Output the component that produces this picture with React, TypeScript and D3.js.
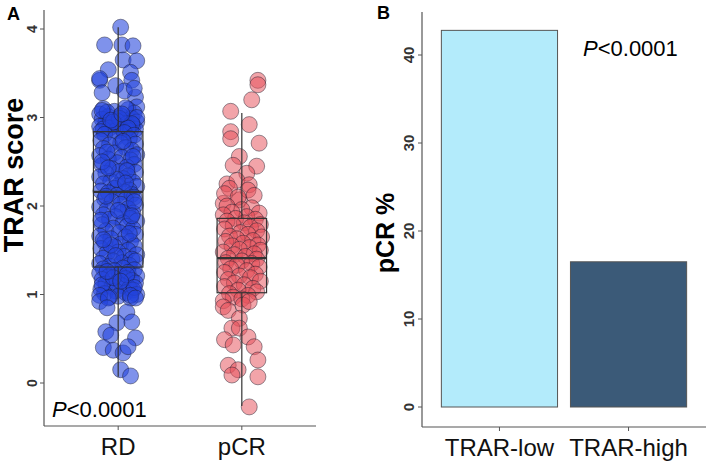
import React from "react";
import * as d3 from "d3";

// Panel A: TRAR score by response group. Points are [jitter (in category steps), score]
const groups = ["RD", "pCR"];

const rdPoints: [number, number][] = [
  [0.02, 4.02], [-0.11, 3.82], [0.03, 3.82], [0.12, 3.81], [0.04, 3.65], [0.15, 3.64], [0.10, 3.51],
  [-0.08, 3.54], [-0.15, 3.42], [-0.15, 3.44], [0.11, 3.42], [-0.13, 3.28], [0.14, 3.23], [0.15, 3.12],
  [-0.02, 3.36], [0.05, 3.30], [0.13, 3.33],
  [-0.12, 3.10], [0.08, 3.09], [-0.03, 3.07], [0.13, 3.05], [-0.15, 3.04], [0.02, 3.02], [-0.08, 3.01],
  [0.11, 2.99], [-0.13, 2.98], [0.05, 2.97], [-0.01, 2.96], [0.15, 2.95], [-0.10, 2.94], [0.07, 2.93],
  [-0.05, 2.92], [0.12, 2.91], [-0.15, 2.90], [0.00, 2.90], [0.09, 2.89], [-0.07, 2.88], [0.14, 2.87],
  [-0.12, 2.87], [0.04, 2.86], [-0.02, 2.85], [0.10, 2.85], [-0.14, 2.84], [0.06, 3.11], [-0.09, 3.06],
  [0.01, 2.99], [0.15, 3.00], [-0.04, 2.95], [0.11, 2.93], [-0.13, 3.08], [0.08, 2.88], [-0.06, 2.97], [0.03, 3.04],
  [0.05, 2.83], [-0.11, 2.81], [0.13, 2.80], [-0.02, 2.77], [0.09, 2.76], [-0.14, 2.74], [0.02, 2.71],
  [0.14, 2.70], [-0.07, 2.69], [0.06, 2.66], [-0.12, 2.65], [0.11, 2.63], [-0.03, 2.60], [0.15, 2.58],
  [-0.15, 2.57], [0.03, 2.55], [-0.08, 2.53], [0.10, 2.52], [-0.01, 2.49], [0.13, 2.47], [-0.13, 2.46],
  [0.07, 2.44], [-0.05, 2.42], [0.01, 2.39], [0.14, 2.38], [-0.10, 2.37], [0.08, 2.34], [-0.15, 2.33],
  [0.04, 2.31], [-0.06, 2.28], [0.12, 2.27], [-0.12, 2.25], [0.00, 2.23], [0.15, 2.22], [-0.03, 2.20],
  [0.09, 2.18], [-0.14, 2.17], [0.05, 2.16], [-0.08, 2.15], [0.11, 2.13], [-0.01, 2.12], [0.13, 2.10],
  [-0.11, 2.08], [0.06, 2.07], [-0.05, 2.05], [0.02, 2.02], [0.14, 2.01], [-0.15, 1.99], [0.08, 1.97],
  [-0.09, 1.96], [0.03, 1.93], [0.12, 1.92], [-0.12, 1.90], [-0.02, 1.88], [0.10, 1.86], [-0.07, 1.85],
  [0.15, 1.83], [0.04, 1.81], [-0.13, 1.79], [0.07, 1.77], [-0.04, 1.75], [0.12, 1.74], [-0.10, 1.72],
  [0.01, 1.70], [0.14, 1.68], [-0.15, 1.66], [0.06, 1.65], [-0.06, 1.63], [0.10, 1.60], [-0.11, 1.59],
  [0.02, 1.57], [0.13, 1.55], [-0.03, 1.54], [-0.14, 1.52], [0.08, 1.50], [0.00, 1.48], [-0.09, 1.47],
  [0.15, 1.45], [0.05, 1.43], [-0.12, 1.41], [0.11, 1.40], [-0.04, 1.38], [0.03, 1.36], [-0.15, 1.35],
  [0.09, 1.33], [-0.07, 1.32], [0.12, 2.56], [-0.09, 2.61], [0.04, 2.73], [-0.13, 2.50], [0.07, 2.40],
  [-0.01, 2.30], [0.13, 2.05], [-0.10, 2.11], [0.00, 1.95], [-0.14, 1.84], [0.09, 1.69], [-0.06, 1.56],
  [0.14, 1.38], [-0.02, 1.44], [0.06, 2.26], [-0.08, 2.43], [0.11, 1.89], [-0.12, 1.62],
  [0.04, 1.30], [-0.12, 1.29], [0.13, 1.28], [-0.03, 1.27], [0.08, 1.25], [-0.15, 1.24], [0.01, 1.23],
  [0.15, 1.21], [-0.08, 1.20], [0.06, 1.18], [-0.13, 1.17], [0.11, 1.16], [-0.01, 1.14], [0.14, 1.13],
  [-0.10, 1.12], [0.03, 1.10], [-0.05, 1.09], [0.09, 1.07], [-0.14, 1.06], [0.12, 1.05], [-0.02, 1.04],
  [0.06, 1.02], [-0.11, 1.01], [0.15, 1.00], [0.00, 0.98], [-0.07, 0.97], [0.10, 0.96], [-0.13, 1.11],
  [0.07, 1.22], [-0.04, 1.19], [0.13, 1.08], [-0.09, 1.26], [0.02, 1.15], [-0.15, 0.99],
  [-0.15, 0.92], [-0.08, 0.96], [0.10, 0.99], [0.14, 0.96], [-0.09, 0.85], [0.07, 0.80], [0.11, 0.69],
  [-0.01, 0.68], [-0.10, 0.58], [-0.06, 0.54], [0.14, 0.51], [-0.12, 0.40], [-0.04, 0.37], [0.04, 0.34],
  [0.08, 0.41], [0.02, 0.15], [0.10, 0.08],
];

const pcrPoints: [number, number][] = [
  [0.13, 3.42], [0.13, 3.37], [0.08, 3.20], [-0.09, 3.07], [0.06, 2.92], [-0.09, 2.84], [-0.09, 2.76],
  [0.14, 2.71], [-0.02, 2.56], [-0.07, 2.46], [0.12, 2.45], [0.04, 2.37], [-0.12, 2.25], [-0.04, 2.29],
  [0.06, 2.24], [-0.15, 2.03], [-0.02, 2.07],
  [-0.10, 2.20], [0.05, 2.18], [-0.14, 2.14], [0.10, 2.12], [-0.03, 2.10], [-0.12, 2.00], [0.08, 1.98],
  [0.00, 1.96], [-0.08, 1.93], [0.14, 1.92], [-0.15, 1.90], [0.04, 1.88], [-0.05, 1.86], [0.11, 1.85],
  [-0.12, 1.83], [0.02, 1.81], [0.15, 1.79], [-0.07, 1.78], [0.07, 1.76], [-0.14, 1.74], [0.12, 1.72],
  [-0.01, 1.70], [0.05, 1.68], [-0.10, 1.66], [0.16, 1.65], [-0.04, 1.63], [0.09, 1.61], [-0.13, 1.60],
  [0.01, 1.58], [0.13, 1.56], [-0.08, 1.55], [0.06, 1.53], [-0.02, 1.51], [0.15, 1.50], [-0.15, 1.48],
  [0.10, 1.46], [-0.06, 1.45], [0.03, 1.43], [-0.11, 1.41], [0.12, 1.40], [0.00, 1.38], [-0.13, 1.36],
  [0.08, 1.35], [-0.04, 1.33], [0.14, 1.31], [-0.09, 1.29], [0.04, 1.27], [-0.14, 1.25], [0.11, 1.23],
  [-0.02, 1.21], [0.07, 1.19], [-0.11, 1.17], [0.15, 1.15], [-0.06, 1.13], [0.02, 1.11], [-0.14, 1.09],
  [0.09, 1.07], [-0.03, 1.05], [0.12, 1.03], [-0.10, 1.01], [0.05, 0.99], [-0.07, 0.97], [0.00, 0.95],
  [-0.15, 0.93],
  [-0.15, 0.86], [-0.11, 0.82], [0.01, 0.88], [0.06, 0.92], [-0.02, 0.73], [-0.08, 0.62], [-0.02, 0.62],
  [-0.14, 0.49], [-0.07, 0.43], [0.05, 0.52], [0.10, 0.41], [-0.11, 0.20], [-0.03, 0.15], [0.13, 0.26],
  [-0.08, 0.09], [0.13, 0.07], [0.06, -0.27],
];

// box stats: [lower whisker, Q1, median, Q3, upper whisker]
const rdBox = [0.07, 1.31, 2.16, 2.84, 4.02];
const pcrBox = [-0.26, 1.02, 1.41, 1.86, 3.05];
const scoreTicks = [0, 1, 2, 3, 4];

// Panel B: pCR rate by TRAR group
const trarGroups = ["TRAR-low", "TRAR-high"];
const pcrRate = [42.8, 16.5];
const rateTicks = [0, 10, 20, 30, 40];

const FONT = "'Liberation Sans', Arial, sans-serif";

export default function App() {
  // panel A scales
  const xA = d3.scalePoint<string>().domain(groups).range([44, 316]).padding(0.6);
  const yA = d3.scaleLinear().domain([0, 4]).range([383, 29]);
  const step = xA.step();

  // panel B scales
  const xB = d3.scaleBand<string>().domain(trarGroups).range([422, 706]).paddingInner(0.1).paddingOuter(0.15);
  const yB = d3.scaleLinear().domain([0, 40]).range([407, 55]);

  const series = [
    { name: "RD", pts: rdPoints, box: rdBox, fill: "#2244dd", op: 0.58 },
    { name: "pCR", pts: pcrPoints, box: pcrBox, fill: "#e6505a", op: 0.52 },
  ];

  const boxW = step * 0.4;

  return (
    <svg width={709} height={463} style={{ position: "absolute", left: 0, top: 0, background: "#fff" }} fontFamily={FONT}>
      {/* ---- panel A ---- */}
      <text x={7} y={20} fontSize={18} fontWeight="bold">A</text>
      {series.map(s => (
        <g key={s.name}>
          {s.pts.map((p, i) => (
            <circle key={i} cx={xA(s.name)! + p[0] * step} cy={yA(p[1])} r={8}
              fill={s.fill} fillOpacity={s.op} stroke="#1a1a2a" strokeOpacity={0.45} strokeWidth={1} />
          ))}
        </g>
      ))}
      {series.map(s => {
        const cx = xA(s.name)!;
        const [lo, q1, med, q3, hi] = s.box;
        return (
          <g key={"box" + s.name} stroke="#333" fill="none">
            <line x1={cx} x2={cx} y1={yA(hi)} y2={yA(q3)} strokeWidth={1.2} />
            <line x1={cx} x2={cx} y1={yA(q1)} y2={yA(lo)} strokeWidth={1.2} />
            <rect x={cx - boxW / 2} y={yA(q3)} width={boxW} height={yA(q1) - yA(q3)} strokeWidth={1.2} />
            <line x1={cx - boxW / 2} x2={cx + boxW / 2} y1={yA(med)} y2={yA(med)} strokeWidth={2.2} />
          </g>
        );
      })}
      <line x1={44} x2={44} y1={10} y2={426} stroke="#555" strokeWidth={1.2} />
      <line x1={44} x2={316} y1={426} y2={426} stroke="#555" strokeWidth={1.2} />
      {scoreTicks.map(t => (
        <g key={t} transform={`translate(44,${yA(t)})`}>
          <line x1={-4} x2={0} stroke="#555" />
          <text transform="translate(-7,0) rotate(-90)" textAnchor="middle" fontSize={14} fontWeight="bold" fill="#333">{t}</text>
        </g>
      ))}
      {groups.map(g => (
        <g key={g} transform={`translate(${xA(g)},426)`}>
          <line y1={0} y2={4} stroke="#555" />
          <text y={29} textAnchor="middle" fontSize={24} fill="#111">{g}</text>
        </g>
      ))}
      <text transform="translate(23,175) rotate(-90)" textAnchor="middle" fontSize={27} fontWeight="bold">TRAR score</text>
      <text x={52} y={417} fontSize={22}><tspan fontStyle="italic">P</tspan>{"<0.0001"}</text>

      {/* ---- panel B ---- */}
      <text x={377} y={19} fontSize={18} fontWeight="bold">B</text>
      {trarGroups.map((g, i) => (
        <rect key={g} x={xB(g)} y={yB(pcrRate[i])} width={xB.bandwidth()} height={yB(0) - yB(pcrRate[i])}
          fill={i === 0 ? "#b3ebfb" : "#3b5a78"} stroke="#555" strokeWidth={1} />
      ))}
      <line x1={422} x2={422} y1={12} y2={427} stroke="#555" strokeWidth={1.2} />
      <line x1={422} x2={706} y1={427} y2={427} stroke="#555" strokeWidth={1.2} />
      {rateTicks.map(t => (
        <g key={t} transform={`translate(422,${yB(t)})`}>
          <line x1={-4} x2={0} stroke="#555" />
          <text transform="translate(-8,0) rotate(-90)" textAnchor="middle" fontSize={15} fontWeight="bold" fill="#333">{t}</text>
        </g>
      ))}
      {trarGroups.map(g => (
        <g key={g} transform={`translate(${xB(g)! + xB.bandwidth() / 2},427)`}>
          <line y1={0} y2={4} stroke="#555" />
          <text y={29} textAnchor="middle" fontSize={24} fill="#111">{g}</text>
        </g>
      ))}
      <text transform="translate(394,233) rotate(-90)" textAnchor="middle" fontSize={25} fontWeight="bold">pCR %</text>
      <text x={583} y={56} fontSize={22}><tspan fontStyle="italic">P</tspan>{"<0.0001"}</text>
    </svg>
  );
}
